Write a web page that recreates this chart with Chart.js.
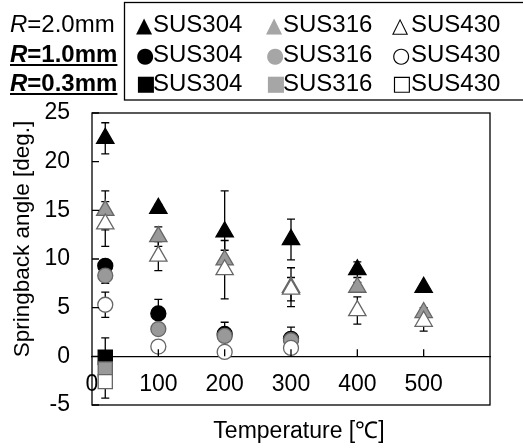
<!DOCTYPE html>
<html><head><meta charset="utf-8">
<script src="https://cdn.jsdelivr.net/npm/chart.js@4/dist/chart.umd.min.js"></script>
<style>html,body{margin:0;padding:0;background:#fff;}canvas{display:block;}</style>
</head><body>
<canvas id="c" width="523" height="448"></canvas>
<script>
// ---- data ----
const tempsR20 = [20, 100, 200, 300, 400, 500];
const tempsR10 = [20, 100, 200, 300];
const tempsR03 = [20];

const r20Sus304 = [22.4, 15.2, 12.8, 12.0, 8.9, 7.1];
const r20Sus304Err = [1.6, 0.4, 4.2, 2.1, 0.8, 0.3];
const r20Sus316 = [15.0, 12.3, 9.9, 7.1, 7.1, 4.5];
const r20Sus316Err = [2.0, 1.0, 1.0, 2.0, 0.5, 0.5];
const r20Sus430 = [13.6, 10.3, 8.9, 6.9, 4.7, 3.6];
const r20Sus430Err = [2.3, 1.5, 3.0, 1.2, 1.4, 1.0];

const r10Sus304 = [9.3, 4.4, 2.3, 1.8];
const r10Sus304Err = [0.5, 1.45, 1.2, 1.2];
const r10Sus316 = [8.3, 2.8, 2.1, 1.65];
const r10Sus316Err = [0.8, 0.5, 0.5, 0.3];
const r10Sus430 = [5.3, 1.0, 0.45, 0.86];
const r10Sus430Err = [1.3, 0.5, 0.3, 0.3];

const r03Sus304 = [-0.1];
const r03Sus304Err = [2.0];
const r03Sus316 = [-1.3];
const r03Sus316Err = [0.5];
const r03Sus430 = [-2.6];
const r03Sus430Err = [1.7];

const materials = ['SUS304', 'SUS316', 'SUS430'];
const radiusLabels = ['2.0mm', '1.0mm', '0.3mm'];
const legendGlyphs = [['▲', '▲', '△'], ['●', '●', '○'], ['■', '■', '□']];
const yTickValues = [-5, 0, 5, 10, 15, 20, 25];
const xTickValues = [0, 100, 200, 300, 400, 500];
const xTitle = 'Temperature [℃]';
const yTitle = 'Springback angle [deg.]';

// ---- styles ----
const FILL = ['#000000', '#999999', '#ffffff'];
const EDGE = ['#000000', '#666666', '#666666'];
const LEGEND_GLYPH_COLOR = ['#000000', '#a6a6a6', '#000000'];
const FONT = "'Liberation Sans', Arial, sans-serif";

function pts(xs, ys) { return xs.map((x, i) => ({x: x, y: ys[i]})); }
function ds(label, xs, ys, err, mat, style, radius) {
  return {
    label: label, data: pts(xs, ys), errors: err,
    pointStyle: style, pointRadius: radius, pointHoverRadius: radius,
    backgroundColor: FILL[mat], borderColor: EDGE[mat], pointBorderWidth: 1.3,
    borderWidth: 1.3, showLine: false, order: 3 - mat
  };
}

const datasets = [
  ds('R2.0 SUS304', tempsR20, r20Sus304, r20Sus304Err, 0, 'triangle', 10),
  ds('R2.0 SUS316', tempsR20, r20Sus316, r20Sus316Err, 1, 'triangle', 10),
  ds('R2.0 SUS430', tempsR20, r20Sus430, r20Sus430Err, 2, 'triangle', 10),
  ds('R1.0 SUS304', tempsR10, r10Sus304, r10Sus304Err, 0, 'circle', 7.5),
  ds('R1.0 SUS316', tempsR10, r10Sus316, r10Sus316Err, 1, 'circle', 7.5),
  ds('R1.0 SUS430', tempsR10, r10Sus430, r10Sus430Err, 2, 'circle', 7.5),
  ds('R0.3 SUS304', tempsR03, r03Sus304, r03Sus304Err, 0, 'rect', 10),
  ds('R0.3 SUS316', tempsR03, r03Sus316, r03Sus316Err, 1, 'rect', 10),
  ds('R0.3 SUS430', tempsR03, r03Sus430, r03Sus430Err, 2, 'rect', 10)
];

const errorBars = {
  id: 'errorBars',
  beforeDatasetsDraw(chart) {
    const ctx = chart.ctx, ys = chart.scales.y;
    ctx.save();
    ctx.strokeStyle = '#000'; ctx.lineWidth = 1.3;
    chart.data.datasets.forEach((d, di) => {
      const meta = chart.getDatasetMeta(di);
      meta.data.forEach((el, i) => {
        const v = d.data[i].y, e = d.errors[i];
        const top = ys.getPixelForValue(v + e), bot = ys.getPixelForValue(v - e);
        ctx.beginPath();
        ctx.moveTo(el.x, top); ctx.lineTo(el.x, bot);
        ctx.moveTo(el.x - 4, top); ctx.lineTo(el.x + 4, top);
        ctx.moveTo(el.x - 4, bot); ctx.lineTo(el.x + 4, bot);
        ctx.stroke();
      });
    });
    ctx.restore();
  }
};

const frame = {
  id: 'frame',
  afterDraw(chart) {
    const ctx = chart.ctx, a = chart.chartArea, xs = chart.scales.x, ys = chart.scales.y;
    ctx.save();
    ctx.strokeStyle = '#000'; ctx.lineWidth = 1.3;
    ctx.strokeRect(a.left, a.top, a.right - a.left, a.bottom - a.top);
    // inner tick marks
    ctx.beginPath();
    yTickValues.forEach(v => { const p = ys.getPixelForValue(v); ctx.moveTo(a.left, p); ctx.lineTo(a.left + 7, p); });
    const y0 = ys.getPixelForValue(0);
    xTickValues.slice(1).forEach(v => { const p = xs.getPixelForValue(v); ctx.moveTo(p, y0); ctx.lineTo(p, y0 - 7); });
    ctx.stroke();
    // axis titles
    ctx.fillStyle = '#000';
    ctx.font = '23px ' + FONT;
    ctx.textAlign = 'center'; ctx.textBaseline = 'alphabetic';
    ctx.fillText(xTitle, 299, 438);
    ctx.save();
    ctx.translate(29, 239); ctx.rotate(-Math.PI / 2);
    ctx.font = '22.5px ' + FONT;
    ctx.fillText(yTitle, 0, 0);
    ctx.restore();
    // legend box
    ctx.lineWidth = 1.3;
    ctx.strokeRect(124.5, 2.5, 430, 97.5);
    const rowsBase = [32, 62, 91];
    const glyphDy = [0, 0, -1.5];
    // left labels
    for (let r = 0; r < 3; r++) {
      const bold = r > 0 ? 'bold ' : '';
      let x = 10;
      ctx.textAlign = 'left';
      ctx.font = 'italic ' + bold + '24px ' + FONT;
      ctx.fillText('R', x, rowsBase[r]);
      x += ctx.measureText('R').width;
      ctx.font = bold + '24px ' + FONT;
      const rest = '=' + radiusLabels[r];
      ctx.fillText(rest, x, rowsBase[r]);
      x += ctx.measureText(rest).width;
      if (r > 0) { ctx.fillRect(10, rowsBase[r] + 2, x - 10, 2); }
    }
    const glyphX = [136, 266, 392], textX = [153, 283, 411];
    for (let r = 0; r < 3; r++) {
      for (let c = 0; c < 3; c++) {
        ctx.textAlign = 'left';
        ctx.font = '21px "DejaVu Sans"';
        ctx.fillStyle = LEGEND_GLYPH_COLOR[c];
        ctx.fillText(legendGlyphs[r][c], glyphX[c], rowsBase[r] + glyphDy[r]);
        ctx.fillStyle = '#000';
        ctx.font = '24px ' + FONT;
        ctx.fillText(materials[c], textX[c], rowsBase[r]);
      }
    }
    ctx.restore();
  }
};

new Chart(document.getElementById('c'), {
  type: 'scatter',
  data: { datasets: datasets },
  options: {
    responsive: false, animation: false, devicePixelRatio: 1,
    layout: { padding: { top: 113, right: 33, bottom: 43, left: 0 } },
    plugins: { legend: { display: false }, tooltip: { enabled: false }, title: { display: false } },
    scales: {
      x: {
        type: 'linear', position: { y: 0 }, min: 0, max: 600,
        afterBuildTicks: s => { s.ticks = xTickValues.map(v => ({value: v})); },
        grid: { display: false, drawTicks: false },
        border: { display: true, color: '#000', width: 1.3 },
        ticks: { color: '#000', font: { family: FONT, size: 23 }, padding: 15, maxRotation: 0 }
      },
      y: {
        type: 'linear', position: 'left', min: -5, max: 25,
        afterBuildTicks: s => { s.ticks = yTickValues.map(v => ({value: v})); },
        afterFit: s => { s.width = 92; },
        grid: { display: false, drawTicks: false },
        border: { display: false },
        ticks: { color: '#000', font: { family: FONT, size: 23 }, padding: 22 }
      }
    }
  },
  plugins: [errorBars, frame]
});
</script>
</body></html>
